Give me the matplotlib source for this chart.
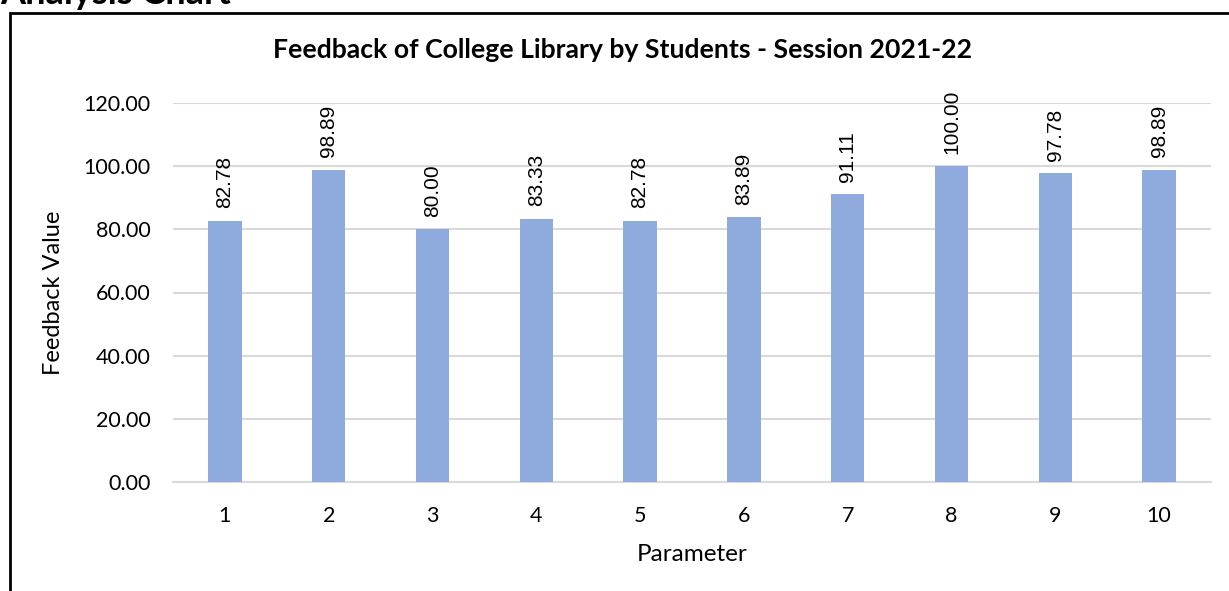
import matplotlib
matplotlib.use("Agg")
import matplotlib.pyplot as plt
from matplotlib.patches import Rectangle

categories = ["1", "2", "3", "4", "5", "6", "7", "8", "9", "10"]
values = [82.78, 98.89, 80.00, 83.33, 82.78, 83.89, 91.11, 100.00, 97.78, 98.89]
yticks = [0, 20, 40, 60, 80, 100, 120]

W, H = 1229, 591
fig = plt.figure(figsize=(W / 100, H / 100), dpi=100)
ax = fig.add_axes([173 / W, 1 - 482 / H, (1211 - 173) / W, (482 - 103) / H])

x = list(range(len(categories)))
ax.bar(x, values, width=0.32, color="#8faadc", zorder=3)
ax.set_xlim(-0.5, len(categories) - 0.5)
ax.set_ylim(0, 120)
ax.set_yticks(yticks)
ax.set_yticklabels([f"{v:.2f}" for v in yticks], fontsize=15.5, family="Lato")
ax.set_xticks(x)
ax.set_xticklabels(categories, fontsize=15.5, family="Lato")
ax.tick_params(axis="y", length=0, pad=16)
ax.tick_params(axis="x", length=0, pad=17)
ax.grid(axis="y", color="#d9d9d9", linewidth=1.5, zorder=0)
for s in ["top", "right", "left"]:
    ax.spines[s].set_visible(False)
ax.spines["bottom"].set_color("#d9d9d9")
ax.spines["bottom"].set_linewidth(1.5)

for xi, v in zip(x, values):
    ax.annotate(f"{v:.2f}", (xi, v), xytext=(0, 9), textcoords="offset points",
                rotation=90, ha="center", va="bottom", fontsize=15,
                family="Liberation Sans")

ax.set_xlabel("Parameter", fontsize=17.5, family="Lato", labelpad=13)
ax.set_ylabel("Feedback Value", fontsize=17, family="Lato", labelpad=14)

fig.text(623 / W, 1 - 50 / H, "Feedback of College Library by Students - Session 2021-22",
         ha="center", va="center", fontsize=19.2, fontweight="bold", family="Lato")

fig.text(0.0, 1 - 4 / H, "Analysis Chart", ha="left", va="baseline",
         fontsize=26, fontweight="bold", family="Lato")

fig.patches.append(Rectangle((10 / W, -0.1), 1.2, 1 - 13 / H + 0.1,
                             transform=fig.transFigure, fill=False,
                             edgecolor="black", linewidth=2))

fig.savefig("out.png", dpi=100)
